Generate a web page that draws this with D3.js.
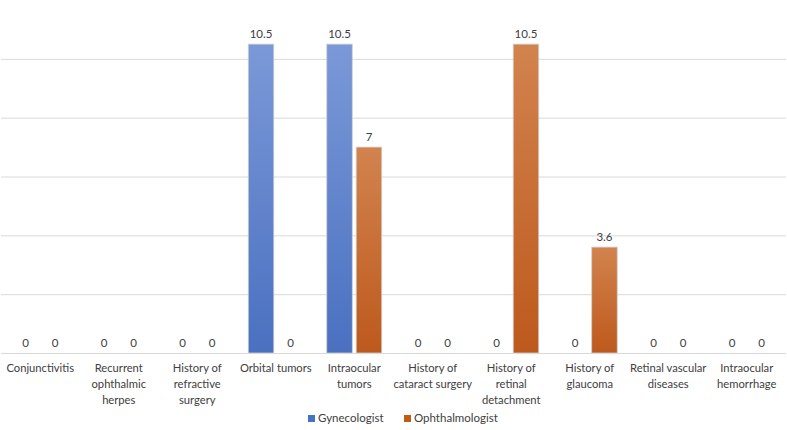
<!DOCTYPE html>
<html><head><meta charset="utf-8">
<script src="https://cdn.jsdelivr.net/npm/d3@7"></script>
<style>body{margin:0;background:#fff}svg{display:block}text{font-family:Lato,"Open Sans",sans-serif;fill:#404040}</style>
</head><body><svg id="c" width="787" height="430"></svg>
<script>
const categories = [
  ["Conjunctivitis"],
  ["Recurrent","ophthalmic","herpes"],
  ["History of","refractive","surgery"],
  ["Orbital tumors"],
  ["Intraocular","tumors"],
  ["History of","cataract surgery"],
  ["History of","retinal","detachment"],
  ["History of","glaucoma"],
  ["Retinal vascular","diseases"],
  ["Intraocular","hemorrhage"]
];
const seriesNames = ["Gynecologist","Ophthalmologist"];
const gynecologist = [0,0,0,10.5,10.5,0,0,0,0,0];
const ophthalmologist = [0,0,0,0,7,0,10.5,3.6,0,0];
const yTicks = [0,2,4,6,8,10,12];

const svg = d3.select("#c");
const defs = svg.append("defs");
const grads = [["gBlue","#7b99d8","#4a70c0"],["gOrange","#d2834e","#bd591d"]];
grads.forEach(([id,a,b])=>{
  const g = defs.append("linearGradient").attr("id",id).attr("x1",0).attr("x2",0).attr("y1",0).attr("y2",1);
  g.append("stop").attr("offset","0%").attr("stop-color",a);
  g.append("stop").attr("offset","100%").attr("stop-color",b);
});
const x = d3.scaleBand().domain(d3.range(categories.length)).range([1,786]);
const y = d3.scaleLinear().domain([0,12]).range([353,0]);
const bw = x.bandwidth()*0.325, gap = x.bandwidth()*0.05;
const off = [-(gap/2+bw), gap/2];

svg.append("g").selectAll("line").data(yTicks.filter(t=>t>0&&t<12)).join("line")
  .attr("x1",1).attr("x2",786).attr("y1",d=>y(d)+0.5).attr("y2",d=>y(d)+0.5)
  .attr("stroke","#d9d9d9");

const data = [gynecologist, ophthalmologist];
data.forEach((arr,si)=>{
  const g = svg.append("g");
  arr.forEach((v,i)=>{
    const bx = x(i)+x.bandwidth()/2+off[si];
    if(v>0){
      g.append("rect").attr("x",bx).attr("y",y(v)).attr("width",bw).attr("height",y(0)-y(v))
        .attr("fill",`url(#${grads[si][0]})`).attr("stroke","#cfcfcf").attr("stroke-width",0.8);
    }
    g.append("text").attr("x",bx+bw/2).attr("y",y(v)-6).attr("text-anchor","middle")
      .attr("font-size",11.5).text(v);
  });
});

svg.append("line").attr("x1",1).attr("x2",786).attr("y1",y(0)+0.5).attr("y2",y(0)+0.5).attr("stroke","#d9d9d9");

const lab = svg.append("g");
categories.forEach((lines,i)=>{
  const cx = x(i)+x.bandwidth()/2;
  const t = lab.append("text").attr("x",cx).attr("y",372).attr("text-anchor","middle").attr("font-size",11.2);
  lines.forEach((l,k)=>t.append("tspan").attr("x",cx).attr("dy",k?15.8:0).text(l));
});

const lg = svg.append("g");
const lx = [308,404];
seriesNames.forEach((n,i)=>{
  lg.append("rect").attr("x",lx[i]).attr("y",415).attr("width",7).attr("height",7).attr("fill",i?"#c55a11":"#4472c4");
  lg.append("text").attr("x",lx[i]+10).attr("y",422).attr("font-size",11.5).text(n);
});
</script></body></html>
